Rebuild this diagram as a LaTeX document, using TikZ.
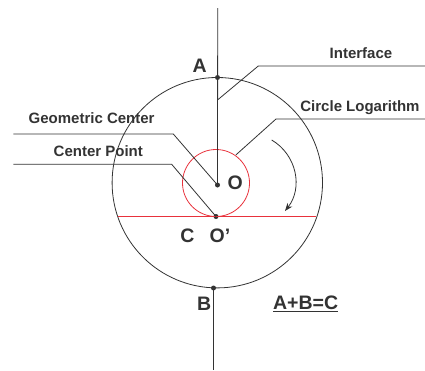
\documentclass[tikz,border=0pt]{standalone}
\usepackage{fontspec}
\setmainfont{Liberation Sans}
\usetikzlibrary{arrows.meta}
\definecolor{ink}{HTML}{333333}
\definecolor{redl}{HTML}{E8323C}
\begin{document}
\begin{tikzpicture}[x=1pt,y=-1pt,line width=0.8pt,
  lbl/.style={font=\fontsize{15}{18}\selectfont\bfseries,text=ink,inner sep=0pt,anchor=base west},
  big/.style={font=\fontsize{19.5}{22}\selectfont\bfseries,text=ink,inner sep=0pt,anchor=base west},
  dot/.style={circle,fill=ink,inner sep=0pt,minimum size=5pt},
  wire/.style={draw=ink},
  redw/.style={draw=redl}]
\useasboundingbox (0,0) rectangle (425,370);
% points
\coordinate (top) at (217.7,8);
\node[dot] (A) at (217.5,77.5) {};
\node[dot] (O) at (217.5,185) {};
\node[dot] (Op) at (216,216.5) {};
\node[dot] (B) at (213.5,288) {};
\coordinate (bot) at (213.5,370);
\coordinate (bigc) at (217.3,182.7);
\coordinate (smallc) at (216,183);
% circles
\draw[wire] (bigc) circle (105.2);
\draw[redw] (smallc) circle (33.5);
\coordinate (chL) at (117.5,216.5);
\coordinate (chR) at (316.3,216.5);
\draw[redw] (chL) -- (chR);
% axis
\draw[wire] (top) -- (O.center);
\draw[wire] (B.center) -- (bot);
% leaders
\coordinate (if0) at (217.5,100);
\coordinate (if1) at (258.3,66);
\coordinate (if2) at (425,66);
\draw[wire] (if0) -- (if1) -- (if2);
\coordinate (cl0) at (235.8,155);
\coordinate (cl1) at (276,119);
\coordinate (cl2) at (425,119);
\draw[wire] (cl0) -- (cl1) -- (cl2);
\coordinate (gc0) at (13.3,134);
\coordinate (gc1) at (173.3,134);
\draw[wire] (gc0) -- (gc1) -- (O.center);
\coordinate (cp0) at (13.3,164.3);
\coordinate (cp1) at (171.7,164.3);
\draw[wire] (cp0) -- (cp1) -- (Op.center);
% rotation arrow
\coordinate (r0) at (271.7,140);
\coordinate (r1) at (285,211);
\draw[wire,-{Stealth[length=8pt,width=6pt]}] (r0) .. controls (297,155) and (303,188) .. (r1);
% labels
\node[lbl] (tIf) at (329.3,58.3) {Interface};
\node[lbl] (tCl) at (300,111.5) {Circle Logarithm};
\node[lbl] (tGc) at (28.3,123.5) {Geometric Center};
\node[lbl] (tCp) at (53.3,156) {Center Point};
\node[big] (tA) at (192.3,72.7) {A};
\node[big] (tB) at (196.7,310.7) {B};
\node[big] (tC) at (180,242.7) {C};
\node[big] (tOp) at (209.3,242.7) {O’};
\node[big] (tO) at (227.3,189.3) {O};
\node[big] (tEq) at (272.7,309.3) {\underline{A+B=C}};
\end{tikzpicture}
\end{document}
